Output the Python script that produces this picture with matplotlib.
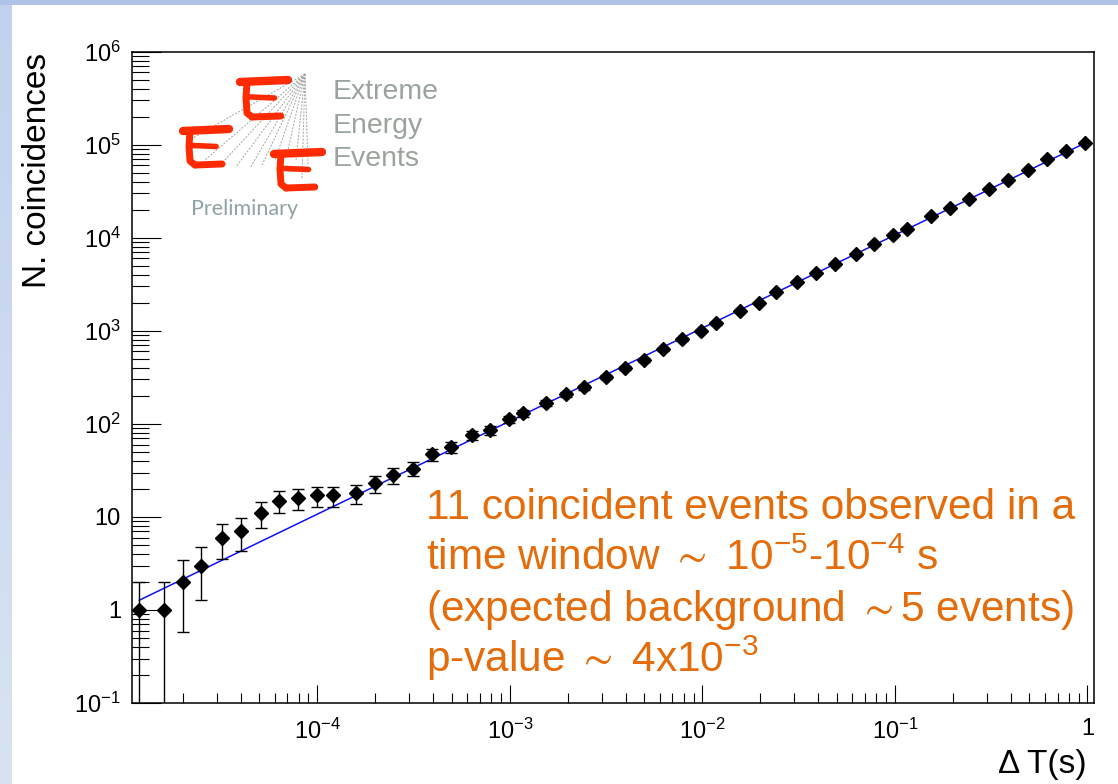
import numpy as np
import matplotlib.pyplot as plt
from matplotlib.patches import Rectangle
from matplotlib.ticker import FixedLocator, FuncFormatter, NullFormatter

plt.rcParams['font.family'] = ['Liberation Sans', 'DejaVu Sans']
plt.rcParams['mathtext.fontset'] = 'custom'
plt.rcParams['mathtext.rm'] = 'Liberation Sans'
plt.rcParams['mathtext.it'] = 'Liberation Sans:italic'
plt.rcParams['mathtext.bf'] = 'Liberation Sans:bold'
plt.rcParams['mathtext.fallback'] = 'stixsans'

# time window (s) and number of coincidences
delta_t = [1.19e-5, 1.60e-5, 2.01e-5, 2.48e-5, 3.21e-5, 4.03e-5, 5.08e-5, 6.33e-5, 7.94e-5, 9.98e-5,
           1.21e-4, 1.585e-4, 1.99e-4, 2.46e-4, 3.13e-4, 3.93e-4, 4.92e-4, 6.33e-4, 7.88e-4, 9.89e-4,
           1.175e-3, 1.55e-3, 1.95e-3, 2.44e-3, 3.16e-3, 3.97e-3, 4.98e-3, 6.22e-3, 7.81e-3, 9.81e-3,
           1.18e-2, 1.57e-2, 1.97e-2, 2.42e-2, 3.10e-2, 3.90e-2, 4.90e-2, 6.27e-2, 7.80e-2, 9.84e-2,
           0.1154, 0.1544, 0.1937, 0.243, 0.310, 0.389, 0.489, 0.616, 0.774, 0.973]
n_coinc = [1, 1, 2, 3, 6, 7, 11, 15, 16, 17,
           17, 18, 23, 28, 33, 47, 56, 76, 86, 112,
           130, 169, 208, 247, 321, 395, 484, 631, 815, 999,
           1201, 1630, 2000, 2606, 3365, 4141, 5174, 6675, 8548, 10680,
           12380, 17080, 20990, 26020, 33340, 41670, 53360, 69520, 85370, 105700]

# straight-line fit N = norm * dT^index
fit_norm = 1.07e5
fit_index = 1.0

x_decades = [1e-4, 1e-3, 1e-2, 1e-1, 1]
y_decades = [1e-1, 1, 10, 1e2, 1e3, 1e4, 1e5, 1e6]

note_lines = ['11 coincident events observed in a',
              r'time window ${\sim}$ 10$^{\mathregular{-5}}$-10$^{\mathregular{-4}}$ s',
              r'(expected background ${\sim}$5 events)',
              r'p-value ${\sim}$ 4x10$^{\mathregular{-3}}$']

W, H = 1118, 784
fig = plt.figure(figsize=(W / 100, H / 100), dpi=100)

# slide background
bg = fig.add_axes([0, 0, 1, 1], zorder=-10)
grad = np.linspace(0, 1, 200)[:, None, None]
top_c = np.array([0.76, 0.82, 0.93])
bot_c = np.array([0.85, 0.89, 0.95])
bg.imshow(top_c + (bot_c - top_c) * grad, extent=[0, W, H, 0], aspect='auto')
bg.add_patch(Rectangle((0, 0), W, 5, color='#afc3e8', lw=0))
bg.add_patch(Rectangle((12, 5), W - 12, H - 5, color='white', lw=0))
bg.set_xlim(0, W)
bg.set_ylim(H, 0)
bg.axis('off')

ax = fig.add_axes([132 / W, 81 / H, 962 / W, 651.3 / H])
ax.set_xscale('log')
ax.set_yscale('log')

err = np.sqrt(n_coinc)
fit_x = np.array([delta_t[0], delta_t[-1]])
ax.plot(fit_x, fit_norm * fit_x ** fit_index, color='#1010ff', lw=1.1, zorder=2)
ax.errorbar(delta_t, n_coinc, yerr=err, fmt='D', color='black', ms=7,
            elinewidth=1.0, capsize=4, capthick=1.0, zorder=3)

ax.set_xlim(1.09e-5, 1.083)
ax.set_ylim(0.1, 1e6)


def root_fmt(v, pos):
    e = int(round(np.log10(v)))
    if e == 0:
        return '1'
    if e == 1:
        return '10'
    return r'$\mathregular{10^{%d}}$' % e


def minors(lo, hi):
    out = []
    for d in range(lo, hi):
        out += [k * 10.0 ** d for k in range(2, 10)]
    return out


ax.xaxis.set_major_locator(FixedLocator(x_decades))
ax.xaxis.set_minor_locator(FixedLocator([v for v in minors(-5, 0) if v > 1.09e-5]))
ax.yaxis.set_major_locator(FixedLocator(y_decades))
ax.yaxis.set_minor_locator(FixedLocator(minors(-1, 6)))
for axis in (ax.xaxis, ax.yaxis):
    axis.set_major_formatter(FuncFormatter(root_fmt))
    axis.set_minor_formatter(NullFormatter())

ax.tick_params(axis='y', which='major', direction='in', length=21, width=0.8, labelsize=17, pad=8)
ax.tick_params(axis='y', which='minor', direction='in', length=12, width=0.8)
ax.tick_params(axis='x', which='major', direction='in', length=13, width=0.8, labelsize=17, pad=11)
ax.tick_params(axis='x', which='minor', direction='in', length=7, width=0.8)
for s in ax.spines.values():
    s.set_linewidth(1.1)

fig.text(38 / W, 1 - 170 / H, 'N. coincidences', rotation=90, ha='center', va='center', fontsize=24)
fig.text(1087 / W, 1 - 764 / H, '\u0394 T(s)', ha='right', va='center', fontsize=24)

for i, line in enumerate(note_lines):
    fig.text(426 / W, 1 - (519 + 51 * i) / H, line, ha='left', va='baseline',
             fontsize=30.5, color='#e46c0a')

# EEE logo overlay
ov = fig.add_axes([0, 0, 1, 1], zorder=5)
ov.set_xlim(0, W)
ov.set_ylim(H, 0)
ov.axis('off')
ov.patch.set_alpha(0)

apex = (305, 74)
fan_ends = [(186, 142), (205, 160), (222, 163), (236, 167), (250, 168), (262, 165),
            (275, 160), (288, 150), (296, 160), (302, 178), (308, 165)]
for ex, ey in fan_ends:
    ov.plot([apex[0], ex], [apex[1], ey], color='#a0a4a0', lw=0.7, ls=(0, (2, 1.5)))


def draw_e(x0, y0, w, h):
    red = '#ff2a00'
    kw = dict(color=red, solid_capstyle='round', solid_joinstyle='round')
    ov.plot([x0, x0 + w], [y0 + 3, y0 + 1], lw=6, **kw)
    ov.plot([x0 + 7, x0 + 6, x0 + 7, x0 + 12], [y0 + 3, y0 + h * 0.5, y0 + h - 4, y0 + h], lw=5, **kw)
    ov.plot([x0 + 8, x0 + w * 0.72], [y0 + h * 0.47, y0 + h * 0.5], lw=4, **kw)
    ov.plot([x0 + 12, x0 + w * 0.85], [y0 + h, y0 + h - 1], lw=5, **kw)


draw_e(240, 79, 48, 38)
draw_e(183, 128, 46, 37)
draw_e(274, 151, 48, 37)

grey = '#9aa39c'
ov.text(333, 99, 'Extreme', color=grey, fontsize=20.5, va='baseline')
ov.text(333, 133, 'Energy', color=grey, fontsize=20.5, va='baseline')
ov.text(333, 166, 'Events', color=grey, fontsize=20.5, va='baseline')
ov.text(191, 215, 'Preliminary', color='#8fa3a3', fontsize=15.5, va='baseline', family='Lato')

fig.savefig('out.png', dpi=100)
